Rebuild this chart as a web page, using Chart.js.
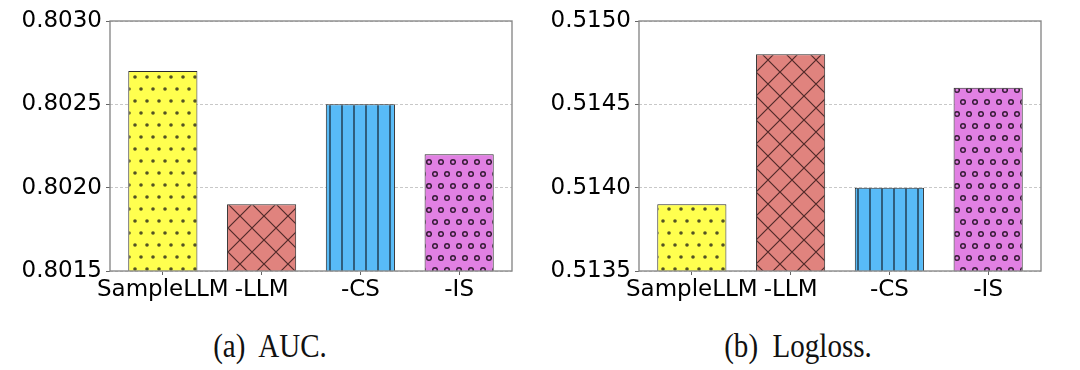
<!DOCTYPE html>
<html>
<head>
<meta charset="utf-8">
<script src="https://cdn.jsdelivr.net/npm/chart.js@4.4.0/dist/chart.umd.min.js"></script>
<style>
  body { margin: 0; background: #fff; width: 1080px; height: 370px; overflow: hidden; position: relative; }
  canvas { position: absolute; top: 0; }
  #c1 { left: 0; }
  #c2 { left: 540px; }
  .cap { position: absolute; top: 330px; font-family: "Liberation Serif", serif; font-size: 33px; line-height: 33px; white-space: pre; transform: translateX(-50%) scaleX(0.88); color: #111; }
</style>
</head>
<body>
<canvas id="c1" width="540" height="310"></canvas>
<canvas id="c2" width="540" height="310"></canvas>
<div class="cap" style="left:270px">(a)  AUC.</div>
<div class="cap" style="left:798px">(b)  Logloss.</div>
<script>
const categories = ['SampleLLM', '-LLM', '-CS', '-IS'];
const auc = [0.8027, 0.8019, 0.8025, 0.8022];
const logloss = [0.5139, 0.5148, 0.5140, 0.5146];
const aucTicks = [0.8015, 0.8020, 0.8025, 0.8030];
const loglossTicks = [0.5135, 0.5140, 0.5145, 0.5150];

const fills = ['#ffff4f', '#e0837e', '#58bbf7', '#e180e3'];
const hatches = ['dots', 'cross', 'vlines', 'rings'];

Chart.defaults.font.family = 'DejaVu Sans';
Chart.defaults.font.size = 23;
Chart.defaults.color = '#000';

// build a canvas pattern: base colour plus a matplotlib-like hatch
function makePattern(color, kind) {
  let c = document.createElement('canvas');
  let w = 12, h = 24;
  if (kind == 'cross') { w = 24; h = 24; }
  if (kind == 'vlines') { w = 12; h = 12; }
  c.width = w; c.height = h;
  let g = c.getContext('2d');
  g.fillStyle = color;
  g.fillRect(0, 0, w, h);
  if (kind == 'dots') {
    g.fillStyle = 'rgba(40,40,25,0.8)';
    [[3, 5], [9, 17]].forEach(p => {
      g.beginPath(); g.arc(p[0], p[1], 1.8, 0, Math.PI * 2); g.fill();
    });
  } else if (kind == 'rings') {
    g.strokeStyle = 'rgba(35,15,35,0.9)';
    g.lineWidth = 1.5;
    [[3, 6], [9, 18]].forEach(p => {
      g.beginPath(); g.arc(p[0], p[1], 2.3, 0, Math.PI * 2); g.stroke();
    });
  } else if (kind == 'vlines') {
    g.strokeStyle = 'rgba(20,30,40,0.9)';
    g.lineWidth = 1.3;
    g.beginPath(); g.moveTo(6, 0); g.lineTo(6, h); g.stroke();
  } else if (kind == 'cross') {
    g.strokeStyle = 'rgba(45,20,20,0.8)';
    g.lineWidth = 1.2;
    g.beginPath();
    for (let k = -1; k <= 1; k++) {
      g.moveTo(k * 24, 0); g.lineTo(k * 24 + 24, 24);
      g.moveTo(k * 24 + 24, 0); g.lineTo(k * 24, 24);
    }
    g.stroke();
  }
  return g.createPattern(c, 'repeat');
}

const frame = {
  id: 'frame',
  afterDatasetsDraw(chart) {
    const a = chart.chartArea, ctx = chart.ctx;
    ctx.save();
    ctx.strokeStyle = '#8a8a8a';
    ctx.lineWidth = 1.4;
    ctx.strokeRect(a.left, a.top, a.right - a.left, a.bottom - a.top);
    ctx.restore();
  }
};

function makeChart(id, values, ticks, axisWidth, rightPad) {
  const ctx = document.getElementById(id).getContext('2d');
  const patterns = fills.map((f, i) => makePattern(f, hatches[i]));
  return new Chart(ctx, {
    type: 'bar',
    data: {
      datasets: [{
        data: values.map((v, i) => ({ x: i, y: v })),
        backgroundColor: patterns,
        borderColor: '#2a2a2a',
        borderWidth: 1,
        barPercentage: 0.7,
        categoryPercentage: 1
      }]
    },
    options: {
      responsive: false,
      animation: false,
      layout: { padding: { top: 21, right: rightPad, left: 0, bottom: 0 } },
      plugins: { legend: { display: false }, tooltip: { enabled: false } },
      scales: {
        x: {
          type: 'linear',
          offset: false,
          min: -0.535,
          max: 3.535,
          afterBuildTicks: s => { s.ticks = categories.map((c, i) => ({ value: i })); },
          afterFit: s => { s.height = 39; },
          ticks: { callback: v => categories[v], padding: 1, maxRotation: 0, autoSkip: false },
          grid: { offset: false, drawOnChartArea: false, tickLength: 4, tickColor: '#666', tickWidth: 1 },
          border: { display: false }
        },
        y: {
          min: ticks[0],
          max: ticks[ticks.length - 1],
          afterBuildTicks: s => { s.ticks = ticks.map(v => ({ value: v })); },
          afterFit: s => { s.width = axisWidth; },
          ticks: { callback: v => v.toFixed(4), padding: 4 },
          grid: { color: '#c8c8c8', lineWidth: 1, tickLength: 4, tickColor: '#666', tickWidth: 1 },
          border: { display: false, dash: [3, 2] }
        }
      }
    },
    plugins: [frame]
  });
}

makeChart('c1', auc, aucTicks, 110, 28);
makeChart('c2', logloss, loglossTicks, 99, 39);
</script>
</body>
</html>
